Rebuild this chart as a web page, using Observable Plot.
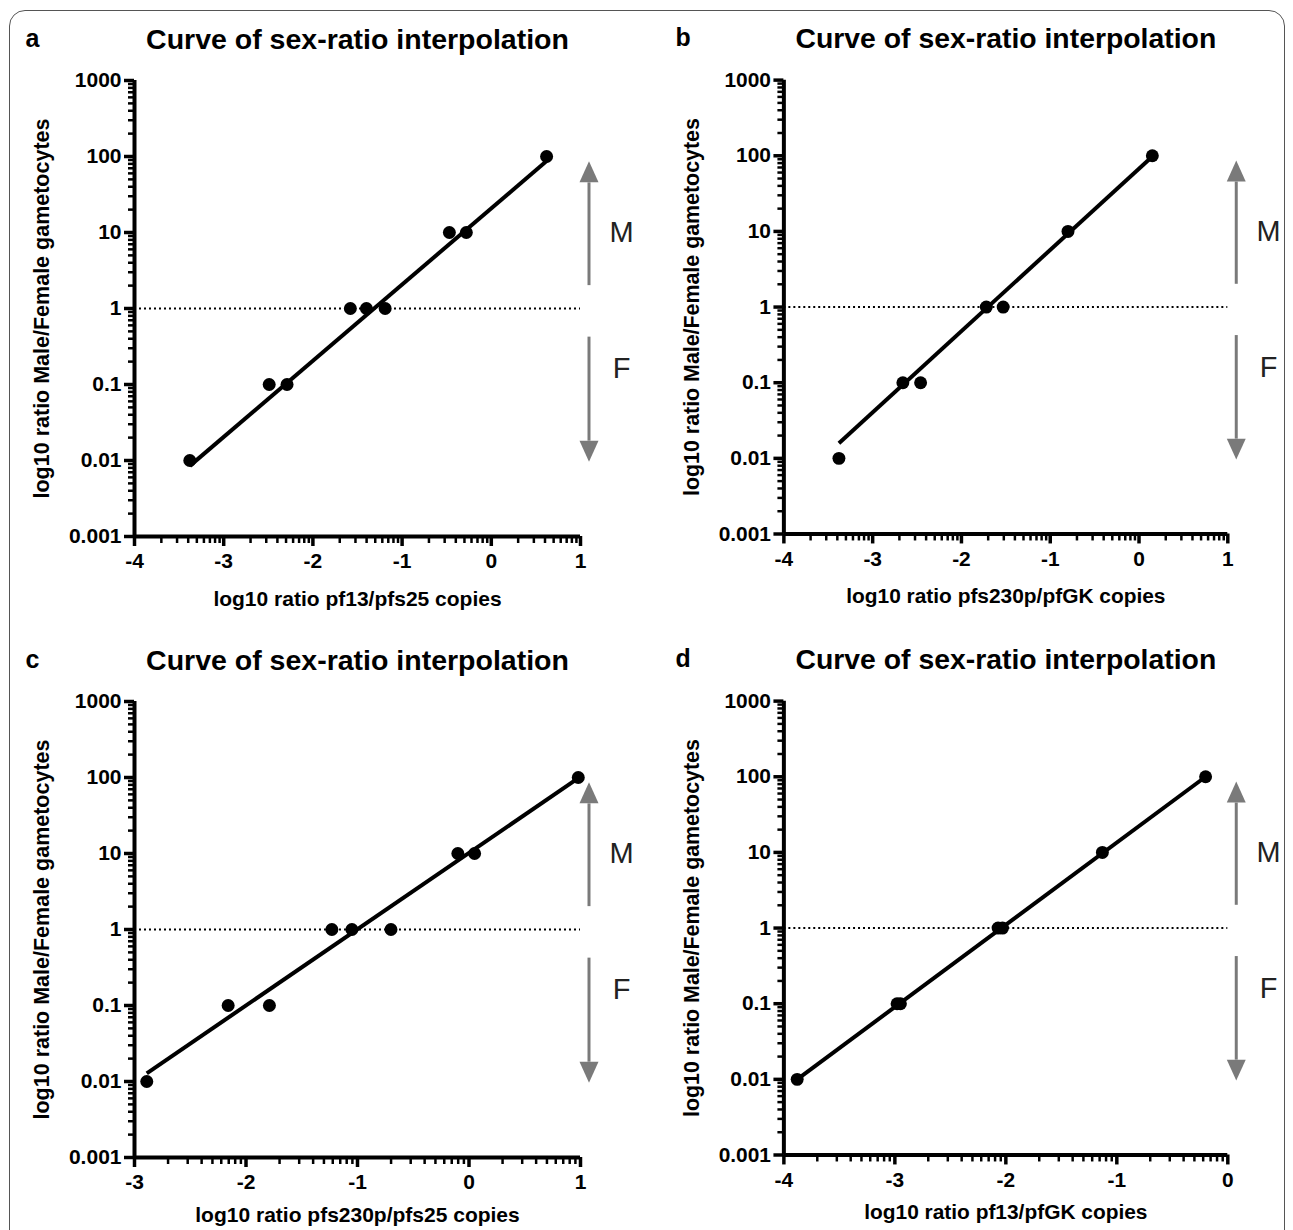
<!DOCTYPE html>
<html>
<head>
<meta charset="utf-8">
<script src="https://cdn.jsdelivr.net/npm/d3@7"></script>
<script src="https://cdn.jsdelivr.net/npm/@observablehq/plot@0.6"></script>
<style>
  html, body { margin: 0; padding: 0; background: #fff; }
  #fig { position: relative; width: 1293px; height: 1230px; overflow: hidden; background: #fff; }
  .panel { position: absolute; }
  .frame { position: absolute; left: 9px; top: 10px; width: 1276px; height: 1300px;
           border: 1.5px solid #555; border-radius: 16px; pointer-events: none; box-sizing: border-box; }
</style>
</head>
<body>
<div id="fig">
  <div class="panel" id="pa" style="left:0px;top:0px"></div>
  <div class="panel" id="pb" style="left:650px;top:0px"></div>
  <div class="panel" id="pc" style="left:0px;top:621px"></div>
  <div class="panel" id="pd" style="left:650px;top:621px"></div>
  <div class="frame"></div>
</div>
<script>
// ---------- data ----------
const titleText = "Curve of sex-ratio interpolation";
const yAxisLabel = "log10 ratio Male/Female gametocytes";

const yTicks = [0.001, 0.01, 0.1, 1, 10, 100, 1000];
const yTickLabels = ["0.001", "0.01", "0.1", "1", "10", "100", "1000"];

// panel a
const aX = [-3.38, -2.49, -2.29, -1.58, -1.40, -1.19, -0.47, -0.28, 0.62];
const aY = [0.01, 0.1, 0.1, 1, 1, 1, 10, 10, 100];
const aFitX = [-3.38, 0.62];
const aFitY = [0.0085, 87];
const aXTicks = [-4, -3, -2, -1, 0, 1];
const aXTickLabels = ["-4", "-3", "-2", "-1", "0", "1"];
const aXLabel = "log10 ratio pf13/pfs25 copies";

// panel b
const bX = [-3.38, -2.66, -2.46, -1.72, -1.53, -0.80, 0.15];
const bY = [0.01, 0.1, 0.1, 1, 1, 10, 100];
const bFitX = [-3.38, 0.15];
const bFitY = [0.0158, 98];
const bXTicks = [-4, -3, -2, -1, 0, 1];
const bXTickLabels = ["-4", "-3", "-2", "-1", "0", "1"];
const bXLabel = "log10 ratio pfs230p/pfGK copies";

// panel c
const cX = [-2.89, -2.16, -1.79, -1.23, -1.05, -0.70, -0.10, 0.05, 0.98];
const cY = [0.01, 0.1, 0.1, 1, 1, 1, 10, 10, 100];
const cFitX = [-2.89, 0.98];
const cFitY = [0.0128, 98];
const cXTicks = [-3, -2, -1, 0, 1];
const cXTickLabels = ["-3", "-2", "-1", "0", "1"];
const cXLabel = "log10 ratio pfs230p/pfs25 copies";

// panel d
const dX = [-3.88, -2.98, -2.95, -2.07, -2.03, -1.13, -0.20];
const dY = [0.01, 0.1, 0.1, 1, 1, 10, 100];
const dFitX = [-3.88, -0.20];
const dFitY = [0.01, 100];
const dXTicks = [-4, -3, -2, -1, 0];
const dXTickLabels = ["-4", "-3", "-2", "-1", "0"];
const dXLabel = "log10 ratio pf13/pfGK copies";

// M / F annotation arrows (y values: from, to) and label positions
const arrowM = [2, 85];
const arrowF = [0.42, 0.0095];
const sexLabels = ["M", "F"];
const sexLabelY = [10, 0.16];

// ---------- drawing ----------
const FONT = '"Liberation Sans", Arial, Helvetica, sans-serif';
const GRAY = "#7a7a7a";

function minorLinear(ticks) {
  const out = [];
  for (let i = 0; i < ticks.length - 1; i++)
    for (let k = 2; k <= 9; k++) out.push(ticks[i] + Math.log10(k));
  return out;
}
function minorLog(ticks) {
  const out = [];
  for (let i = 0; i < ticks.length - 1; i++)
    for (let k = 2; k <= 9; k++) out.push(ticks[i] * k);
  return out;
}

function panel(letter, X, Y, fitX, fitY, xTicks, xTickLabels, xLabel, labelDy) {
  const pts = X.map((x, i) => ({x, y: Y[i]}));
  const fit = fitX.map((x, i) => ({x, y: fitY[i]}));
  const xDomain = [xTicks[0], xTicks[xTicks.length - 1]];
  const xLab = new Map(xTicks.map((t, i) => [t, xTickLabels[i]]));
  const yLab = new Map(yTicks.map((t, i) => [t, yTickLabels[i]]));
  const arrows = [arrowM, arrowF];

  const arrowMark = (index, scales) => {
    const g = d3.create("svg:g");
    const x0 = scales.x(xDomain[1]) + 9;
    for (const a of arrows) {
      const y0 = scales.y(a[0]), y1 = scales.y(a[1]);
      const dir = Math.sign(y1 - y0);
      const yb = y1 - dir * 21;
      g.append("line").attr("x1", x0).attr("x2", x0).attr("y1", y0).attr("y2", yb)
        .attr("stroke", GRAY).attr("stroke-width", 3);
      g.append("path").attr("d", `M${x0},${y1}L${x0 - 9.5},${yb}L${x0 + 9.5},${yb}Z`).attr("fill", GRAY);
    }
    return g.node();
  };

  const marks = [
    Plot.ruleY([1], {stroke: "#000", strokeWidth: 2, strokeDasharray: "2,3"}),
    Plot.axisX({ticks: minorLinear(xTicks), anchor: "bottom", tickSize: 7, tickFormat: () => "", strokeWidth: 2.5, label: null}),
    Plot.axisY({ticks: minorLog(yTicks), anchor: "left", tickSize: 6, tickFormat: () => "", strokeWidth: 2.5, label: null}),
    Plot.axisX({ticks: xTicks, anchor: "bottom", tickSize: 10, tickPadding: 7, tickFormat: d => xLab.get(d), strokeWidth: 3.5, label: null, fontSize: 21, fontWeight: "bold"}),
    Plot.axisY({ticks: yTicks, anchor: "left", tickSize: 10, tickPadding: 3, tickFormat: d => yLab.get(d), strokeWidth: 3.5, label: null, fontSize: 21, fontWeight: "bold"}),
    Plot.ruleX([xDomain[0]], {strokeWidth: 4}),
    Plot.ruleY([0.001], {strokeWidth: 4}),
    Plot.line(fit, {x: "x", y: "y", strokeWidth: 4, strokeLinecap: "butt"}),
    Plot.dot(pts, {x: "x", y: "y", r: 6.5, fill: "#000", stroke: null}),
    arrowMark,
    Plot.text(sexLabels, {x: () => xDomain[1], y: (d, i) => sexLabelY[i], text: d => d, dx: 41, fontSize: 29, fontWeight: "normal", fill: "#222", textAnchor: "middle"}),
    Plot.text([xLabel], {frameAnchor: "bottom", lineAnchor: "middle", textAnchor: "middle", dy: labelDy, fontSize: 21, fontWeight: "bold"}),
    Plot.text([yAxisLabel], {frameAnchor: "left", lineAnchor: "middle", textAnchor: "middle", dx: -92, rotate: -90, fontSize: 21.5, fontWeight: "bold"}),
    Plot.text([titleText], {frameAnchor: "top", lineAnchor: "middle", textAnchor: "middle", dy: -41, fontSize: 28.5, fontWeight: "bold"}),
    Plot.text([letter], {frameAnchor: "top-left", lineAnchor: "middle", textAnchor: "start", dx: -109, dy: -42, fontSize: 25, fontWeight: "bold"})
  ];

  return Plot.plot({
    width: 646,
    height: 620,
    marginLeft: 134,
    marginRight: 66,
    marginTop: 80,
    marginBottom: 84,
    x: {domain: xDomain, label: null},
    y: {type: "log", domain: [0.001, 1000], label: null},
    style: {fontFamily: FONT, fontSize: "21px", fontWeight: "bold", background: "transparent", color: "#000", overflow: "visible"},
    marks
  });
}

document.getElementById("pa").append(panel("a", aX, aY, aFitX, aFitY, aXTicks, aXTickLabels, aXLabel, 63));
document.getElementById("pb").append(panel("b", bX, bY, bFitX, bFitY, bXTicks, bXTickLabels, bXLabel, 63));
document.getElementById("pc").append(panel("c", cX, cY, cFitX, cFitY, cXTicks, cXTickLabels, cXLabel, 58));
document.getElementById("pd").append(panel("d", dX, dY, dFitX, dFitY, dXTicks, dXTickLabels, dXLabel, 58));
</script>
</body>
</html>
